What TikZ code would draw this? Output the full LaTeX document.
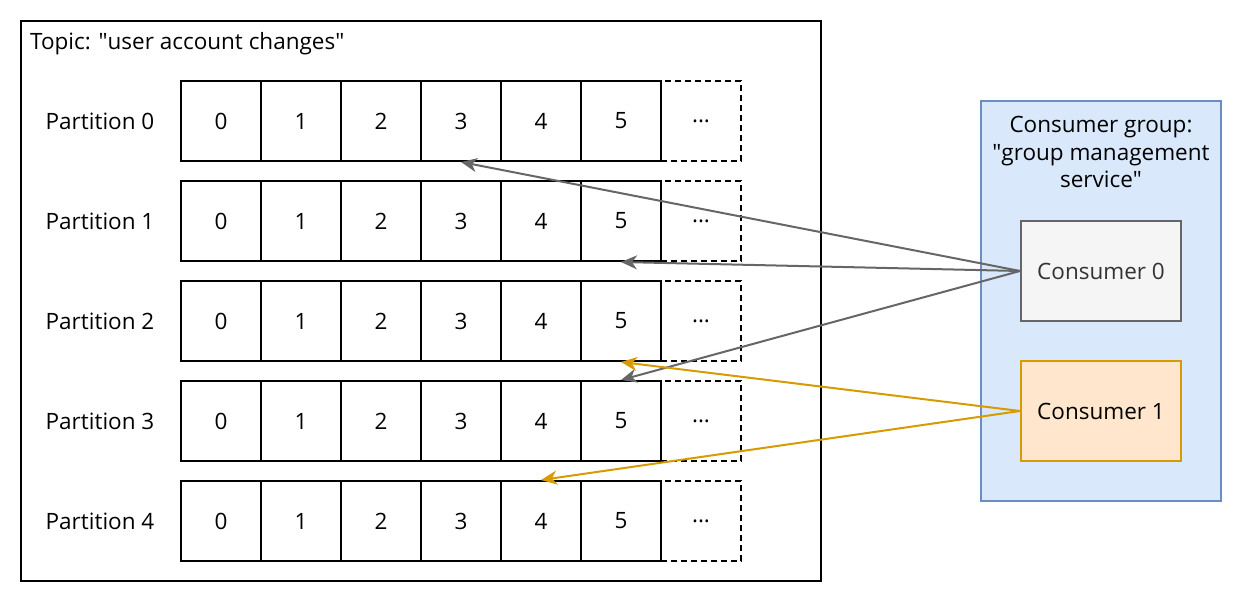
\documentclass[tikz,border=0pt]{standalone}
\usepackage{fontspec}
\setmainfont{Open Sans}
\usetikzlibrary{positioning,arrows.meta}

\definecolor{groupfill}{HTML}{DAE8FC}
\definecolor{groupline}{HTML}{6C8EBF}
\definecolor{grayfill}{HTML}{F5F5F5}
\definecolor{grayline}{HTML}{666666}
\definecolor{graytext}{HTML}{333333}
\definecolor{orangefill}{HTML}{FFE6CC}
\definecolor{orangeline}{HTML}{D79B00}

\begin{document}
\begin{tikzpicture}[x=1pt,y=-1pt,
        every node/.style={font=\fontsize{22.5}{27.5}\selectfont},
        cell/.style={draw, line width=2pt, minimum size=80pt, inner sep=0pt},
        more/.style={cell, dash pattern=on 6pt off 4pt},
        consumer/.style={draw, line width=2pt, minimum width=160pt,
        minimum height=100pt, inner sep=0pt},
        feed/.style={line width=2pt, -{Stealth[length=16pt,width=14pt,inset=5pt]}}
        ]

        \useasboundingbox (0,0) rectangle (1242,604);

        % topic
        \node [draw, line width=2pt, minimum width=800pt, minimum height=560pt,
               inner sep=0pt] (topic) at (421,301) {};
        \node [anchor=west, inner sep=0pt] (topiclabel) at (30,44)
              {Topic: \textquotedbl user account changes\textquotedbl};

        % partitions
        \foreach \r in {0,...,4} {
            \node (part\r) at (100,121+100*\r) {Partition \r};
            \foreach \c in {0,...,5}
                \node [cell] (p\r c\c) at (221+80*\c,121+100*\r) {\c};
            \node [more] (p\r more) at (701,121+100*\r) {\raisebox{-0.2ex}{...}};
        }

        % consumer group
        \node [draw=groupline, fill=groupfill, line width=1.8pt, minimum width=240pt,
               minimum height=400pt, inner sep=0pt] (group) at (1101,301) {};
        \node [align=center, inner sep=0pt] (grouplabel) at (1101,152)
              {Consumer group:\\\textquotedbl group management\\service\textquotedbl};
        \node [consumer, draw=grayline, fill=grayfill, text=graytext] (cons0)
              at (1101,271) {Consumer 0};
        \node [consumer, draw=orangeline, fill=orangefill] (cons1)
              [below=38pt of cons0] {Consumer 1};

        \draw [feed, grayline] (cons0.west) -- (p0c3.south);
        \draw [feed, grayline] (cons0.west) -- (p1c5.south);
        \draw [feed, grayline] (cons0.west) -- (p3c5.north);
        \draw [feed, orangeline] (cons1.west) -- (p2c5.south);
        \draw [feed, orangeline] (cons1.west) -- (p4c4.north);
     \end{tikzpicture}
\end{document}
